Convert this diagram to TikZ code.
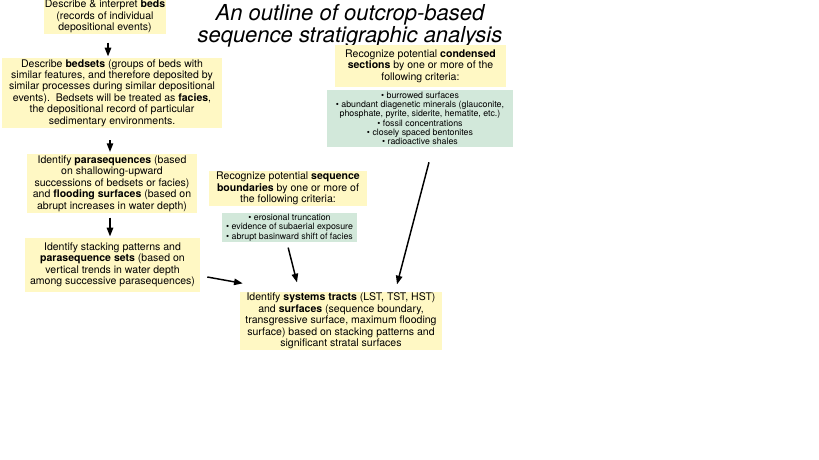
\documentclass[tikz,border=0pt]{standalone}
\usepackage{fontspec}
\setmainfont{TeX Gyre Heros}
\usepackage{xcolor}
\definecolor{boxyellow}{RGB}{255,248,196}
\definecolor{listgreen}{RGB}{210,232,218}
\usetikzlibrary{arrows.meta}

\begin{document}
\begin{tikzpicture}[
  x=0.75pt, y=-0.75pt,
  font=\fontsize{7.9}{8.6}\selectfont,
  stepbox/.style 2 args={
    rectangle, fill=boxyellow, draw=none,
    minimum width=#1, minimum height=#2,
    inner sep=1pt, align=center
  },
  critbox/.style 2 args={
    rectangle, fill=listgreen, draw=none,
    minimum width=#1, minimum height=#2,
    inner sep=1pt, align=center,
    font=\fontsize{6.6}{7}\selectfont
  },
  arr/.style={-{Triangle[length=6.5pt,width=4.8pt]}, line width=1.1pt, black}
]
\useasboundingbox (0,0) rectangle (819,460);

\node[anchor=north, inner sep=0pt, align=center, font=\fontsize{16.5}{16.5}\selectfont\itshape] (title) at (350,4)
  {An outline of outcrop-based\\sequence stratigraphic analysis};

\node[stepbox={85.5pt}{24.75pt}] (beds) at (105,16.5)
  {Describe \& interpret \textbf{beds}\\(records of individual\\depositional events)};
\node[stepbox={165pt}{52.5pt}] (bedsets) at (112,93)
  {Describe \textbf{bedsets} (groups of beds with\\similar features, and therefore deposited by\\similar processes during similar depositional\\events).\ \ Bedsets will be treated as \textbf{facies},\\the depositional record of particular\\sedimentary environments.};
\node[stepbox={127.5pt}{42.75pt}] (paraseq) at (112,183.5)
  {Identify \textbf{parasequences} (based\\on shallowing-upward\\successions of bedsets or facies)\\and \textbf{flooding surfaces} (based on\\abrupt increases in water depth)};
\node[stepbox={131.25pt}{40.5pt}] (stacking) at (112.5,265)
  {Identify stacking patterns and\\\textbf{parasequence sets} (based on\\vertical trends in water depth\\among successive parasequences)};
\node[stepbox={151.5pt}{43.5pt}] (tracts) at (341,321)
  {Identify \textbf{systems tracts} (LST, TST, HST)\\and \textbf{surfaces} (sequence boundary,\\transgressive surface, maximum flooding\\surface) based on stacking patterns and\\significant stratal surfaces};

\node[stepbox={118.5pt}{24.75pt}] (seqbound) at (288,188.5)
  {Recognize potential \textbf{sequence}\\\textbf{boundaries} by one or more of\\the following criteria:};
\node[critbox={101.25pt}{21.75pt}] (sbcrit) at (289.5,227.5)
  {• erosional truncation\\• evidence of subaerial exposure\\• abrupt basinward shift of facies};

\node[stepbox={128.25pt}{31.5pt}] (condensed) at (420.5,66)
  {Recognize potential \textbf{condensed}\\\textbf{sections} by one or more of the\\following criteria:};
\node[critbox={139.5pt}{42.75pt}] (cscrit) at (420,118.5)
  {• burrowed surfaces\\• abundant diagenetic minerals (glauconite,\\phosphate, pyrite, siderite, hematite, etc.)\\• fossil concentrations\\• closely spaced bentonites\\• radioactive shales};

\draw[arr, shorten <=6pt, shorten >=1pt] ([xshift=2.25pt]beds.south) -- ([xshift=2.25pt]beds.south |- bedsets.north);
\draw[arr, shorten <=9pt, shorten >=1.5pt] ([xshift=-1.5pt]bedsets.south) -- ([xshift=-1.5pt]bedsets.south |- paraseq.north);
\draw[arr, shorten <=3.5pt, shorten >=1pt] ([xshift=-1.5pt]paraseq.south) -- ([xshift=-1.5pt]paraseq.south |- stacking.north);
\draw[arr] ([xshift=5.25pt,yshift=-9pt]stacking.east) -- ([xshift=2.25pt,yshift=6pt]tracts.north west);
\draw[arr] ([xshift=-1pt,yshift=-3.75pt]sbcrit.south) -- ([xshift=-33pt,yshift=6.75pt]tracts.north);
\draw[arr] ([xshift=6.75pt,yshift=-11.25pt]cscrit.south) -- ([xshift=42pt,yshift=5.25pt]tracts.north);
\end{tikzpicture}
\end{document}
